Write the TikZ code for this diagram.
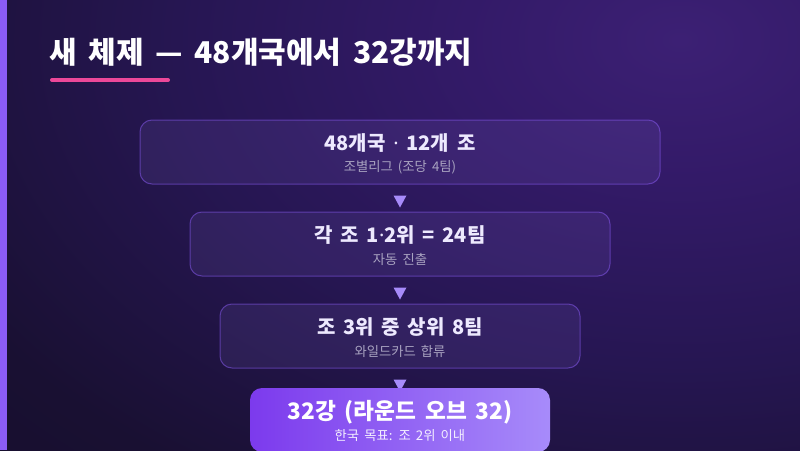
\documentclass[tikz,border=0pt]{standalone}
\usepackage{fontspec}
\setmainfont{Noto Sans CJK KR}[WordSpace=1.7]
\newfontfamily\latinf{Noto Sans}
\usepackage{tikz}
\usetikzlibrary{calc}

\definecolor{bgDark}{HTML}{100A23}
\definecolor{glowA}{HTML}{3C2074}
\definecolor{glowB}{HTML}{331A68}
\definecolor{glowC}{HTML}{261652}
\definecolor{glowD}{HTML}{191032}
\definecolor{glowE}{HTML}{130C28}
\definecolor{barC}{HTML}{8B5CF6}
\definecolor{pinkC}{HTML}{EC4899}
\definecolor{boxFill}{HTML}{A78BFA}
\definecolor{boxLine}{HTML}{8B5CF6}
\definecolor{ttlC}{HTML}{EDE9FE}
\definecolor{subC}{HTML}{A8A2C0}
\definecolor{dropC}{HTML}{A78BFA}
\definecolor{finA}{HTML}{7C3AED}
\definecolor{finB}{HTML}{A78BFA}
\definecolor{finSub}{HTML}{F3EEFF}

% TikZ fits a 100bp square of the shading to the path
\pgfdeclareradialshading{bgglow}{\pgfpoint{0bp}{0bp}}{color(0bp)=(glowA); color(6bp)=(glowB); color(14bp)=(glowC); color(23bp)=(glowD); color(34bp)=(glowE); color(50bp)=(bgDark)}

\newcommand{\mdot}{{\latinf ·}}

\tikzset{
  stage/.style={draw=boxLine, draw opacity=.5, fill=boxFill, fill opacity=.1, line width=0.75pt, rounded corners=9pt, minimum height=48pt, inner sep=0pt},
  final/.style={rounded corners=9pt, left color=finA, right color=finB, minimum height=48pt, inner sep=0pt},
  ttl/.style={font=\bfseries\fontsize{15}{18}\selectfont, text=ttlC, inner sep=0pt},
  sub/.style={font=\fontsize{10}{12}\selectfont, text=subC, inner sep=0pt},
  drop/.pic={\fill[dropC] (-6.5,6) -- (6.5,6) -- (0,-6) -- cycle;}
}

\begin{document}
\begin{tikzpicture}[x=0.75pt,y=0.75pt,yscale=-1,xscale=1]
\useasboundingbox (0,0) rectangle (800,450);

% Background
\begin{scope}
\clip (0,0) rectangle (800,450);
\fill[bgDark] (0,0) rectangle (800,450);
\shade[shading=bgglow] (-220,-540) rectangle (1580,620);
\end{scope}
\fill[barC] (0,0) rectangle (6.5,450);

% Text Node
\node[anchor=base west, inner sep=0pt, text=white, font=\bfseries\fontsize{22.5}{27}\selectfont] (head) at (49,63) {새 체제 — 48개국에서 32강까지};
\draw[pinkC, line width=3pt, line cap=round] (52,80) -- (168,80);

% Stages
\node[stage, minimum width=390pt] (b1) at (400,152) {};
\node[stage, minimum width=315pt] (b2) at (400,244) {};
\node[stage, minimum width=270pt] (b3) at (400,336) {};

% Text Node
\node[ttl] (t1) at ($(b1.center)+(0,-8.5)$) {48개국 \mdot{} 12개 조};
\node[sub] (s1) at ($(b1.center)+(0,15.7)$) {조별리그 (조당 4팀)};
% Text Node
\node[ttl] (t2) at ($(b2.center)+(0,-8.5)$) {각 조 1\mdot{}2위 = 24팀};
\node[sub] (s2) at ($(b2.center)+(0,15.7)$) {자동 진출};
% Text Node
\node[ttl] (t3) at ($(b3.center)+(0,-8.5)$) {조 3위 중 상위 8팀};
\node[sub] (s3) at ($(b3.center)+(0,15.7)$) {와일드카드 합류};

% Arrows
\pic at ($(b1.south)+(0,17)$) {drop};
\pic at ($(b2.south)+(0,17)$) {drop};
\pic at ($(b3.south)+(0,17)$) {drop};

\node[final, minimum width=225pt] (b4) at (400,420) {};
% Text Node
\node[ttl, text=white, font=\bfseries\fontsize{17}{20}\selectfont] (t4) at ($(b4.center)+(0,-7.3)$) {32강 (라운드 오브 32)};
\node[sub, text=finSub] (s4) at ($(b4.center)+(0,15.7)$) {한국 목표: 조 2위 이내};

\end{tikzpicture}
\end{document}
